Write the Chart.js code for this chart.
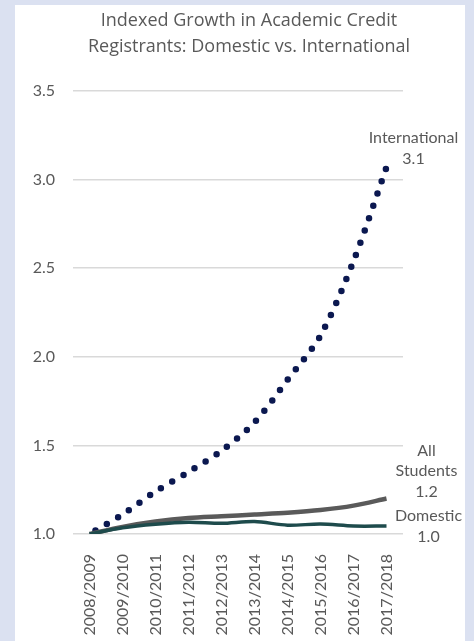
<!DOCTYPE html>
<html>
<head>
<meta charset="utf-8">
<script src="https://cdn.jsdelivr.net/npm/chart.js@4"></script>
<style>
  html, body { margin: 0; padding: 0; background: #dbe1f1; }
  #wrap { position: absolute; left: 0; top: 0; width: 474px; height: 641px; }
</style>
</head>
<body>
<div id="wrap"><canvas id="c" width="474" height="641"></canvas></div>
<script>
// Academic years (x axis)
const years = ['2008/2009', '2009/2010', '2010/2011', '2011/2012', '2012/2013',
               '2013/2014', '2014/2015', '2015/2016', '2016/2017', '2017/2018'];

// Registrant counts indexed to 2008/2009 = 1.0
const international = [1.00, 1.11, 1.24, 1.35, 1.47, 1.63, 1.87, 2.12, 2.54, 3.07];
const allStudents   = [1.00, 1.04, 1.07, 1.09, 1.10, 1.11, 1.12, 1.135, 1.16, 1.20];
const domestic      = [1.00, 1.035, 1.055, 1.066, 1.06, 1.07, 1.05, 1.056, 1.045, 1.045];

const titleLines = ['Indexed Growth in Academic Credit', 'Registrants: Domestic vs. International'];
const yTicks = [1.0, 1.5, 2.0, 2.5, 3.0, 3.5];

const TEXT = '#595959';
const FONT = 'Lato, "Open Sans", sans-serif';
const TITLE_FONT = '"Open Sans", Lato, sans-serif';

// Card background, title and end-of-line labels
const decor = {
  id: 'decor',
  beforeDraw(chart) {
    const ctx = chart.ctx;
    ctx.save();
    ctx.fillStyle = '#dbe1f1';
    ctx.fillRect(0, 0, chart.width, chart.height);
    ctx.fillStyle = '#ffffff';
    ctx.fillRect(15, 5, 450, chart.height - 5);
    ctx.fillStyle = TEXT;
    ctx.font = '18px ' + TITLE_FONT;
    ctx.textAlign = 'center';
    ctx.textBaseline = 'middle';
    ctx.fillText(titleLines[0], 249, 21);
    ctx.fillText(titleLines[1], 249, 47);
    ctx.restore();
  },
  afterDatasetsDraw(chart) {
    const ctx = chart.ctx;
    const xs = chart.scales.x, ys = chart.scales.y;
    const last = years.length - 1;
    const px = xs.getPixelForValue(last);
    const put = (lines, dx, y0) => {
      lines.forEach((t, i) => ctx.fillText(t, px + dx, y0 + i * 20.5));
    };
    ctx.save();
    ctx.fillStyle = TEXT;
    ctx.font = '16px ' + FONT;
    ctx.textAlign = 'center';
    ctx.textBaseline = 'middle';
    const yi = ys.getPixelForValue(international[last]);
    put(['International', international[last].toFixed(1)], 27, yi - 29);
    const ya = ys.getPixelForValue(allStudents[last]);
    put(['All', 'Students', allStudents[last].toFixed(1)], 40, ya - 48);
    const yd = ys.getPixelForValue(domestic[last]);
    put(['Domestic', domestic[last].toFixed(1)], 42, yd - 10);
    ctx.restore();
  }
};

new Chart(document.getElementById('c'), {
  type: 'line',
  data: {
    labels: years,
    datasets: [
      {
        label: 'Domestic',
        data: domestic,
        borderColor: '#1e4b4c',
        borderWidth: 3.5,
        pointRadius: 0,
        tension: 0.3
      },
      {
        label: 'All Students',
        data: allStudents,
        borderColor: '#5a5a5a',
        borderWidth: 4.5,
        pointRadius: 0,
        tension: 0.3
      },
      {
        label: 'International',
        data: international,
        borderColor: '#0b1850',
        borderWidth: 6.5,
        borderDash: [0, 13],
        borderDashOffset: -7,
        borderCapStyle: 'round',
        pointRadius: 0,
        tension: 0.3
      }
    ]
  },
  options: {
    responsive: false,
    animation: false,
    layout: { padding: { left: 0, right: 71, top: 91, bottom: 0 } },
    plugins: { legend: { display: false }, tooltip: { enabled: false }, title: { display: false } },
    scales: {
      x: {
        offset: true,
        grid: { display: false },
        border: { display: false },
        ticks: {
          color: TEXT,
          font: { family: FONT, size: 16 },
          minRotation: 90,
          maxRotation: 90,
          padding: 12,
          autoSkip: false
        },
        afterFit(scale) { scale.height = 107; }
      },
      y: {
        min: 1.0,
        max: 3.5,
        afterBuildTicks(scale) { scale.ticks = yTicks.map(v => ({ value: v })); },
        grid: { color: '#d9d9d9', lineWidth: 1.5, drawTicks: false },
        border: { display: false },
        ticks: {
          color: TEXT,
          font: { family: FONT, size: 16 },
          padding: 18,
          callback: v => v.toFixed(1)
        },
        afterFit(scale) { scale.width = 73; }
      }
    }
  },
  plugins: [decor]
});
</script>
</body>
</html>
